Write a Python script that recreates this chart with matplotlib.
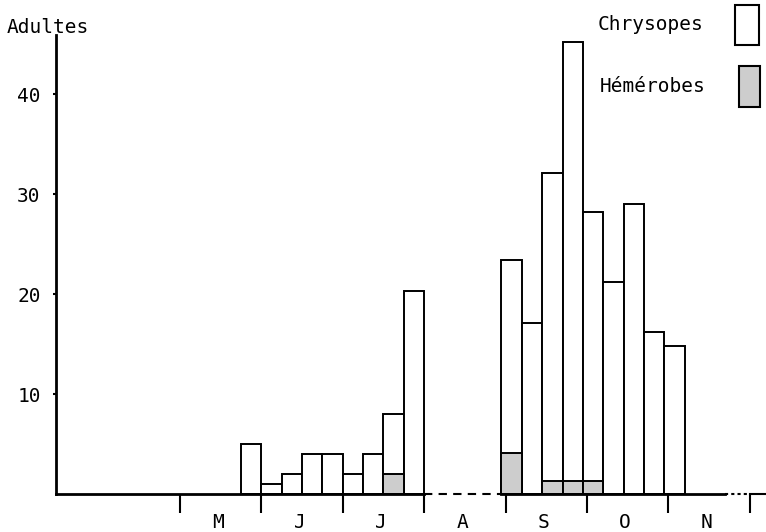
import matplotlib
matplotlib.use("Agg")
from matplotlib import pyplot as plt
from matplotlib.patches import Rectangle

# sampling periods, start of each quarter-month period (months counted from 1 May)
period_start = [0.75, 1.0, 1.25, 1.5, 1.75, 2.0, 2.25, 2.5, 2.75,
                3.95, 4.2, 4.45, 4.7, 4.95, 5.2, 5.45, 5.7, 5.95]
chrysopes = [5, 1, 2, 4, 4, 2, 4, 8, 20.3,
             23.4, 17.1, 32.1, 45.2, 28.2, 21.2, 29, 16.2, 14.8]
hemerobes = [0, 0, 0, 0, 0, 0, 0, 2, 0,
             4.1, 0, 1.3, 1.3, 1.3, 0, 0, 0, 0]
months = ["M", "J", "J", "A", "S", "O", "N"]
y_ticks = [10, 20, 30, 40]

FONT = "DejaVu Sans Mono"
plt.rcParams["font.family"] = FONT
plt.rcParams["font.size"] = 14

W, H = 766, 532
fig = plt.figure(figsize=(W / 100, H / 100), dpi=100)
ax = fig.add_axes([56 / W, (H - 494) / H, 710 / W, 459 / H])
ax.set_xlim(-1.523, 7.2)
ax.set_ylim(0, 45.9)

# bars
ax.bar(period_start, chrysopes, width=0.25, align="edge",
       facecolor="white", edgecolor="black", linewidth=1.4, zorder=2)
hx = [x for x, v in zip(period_start, hemerobes) if v > 0]
hv = [v for v in hemerobes if v > 0]
ax.bar(hx, hv, width=0.25, align="edge",
       facecolor="#cdcdcd", edgecolor="black", linewidth=1.4, zorder=3)

# baseline: solid, dashed over August, solid again, dotted end
ax.plot([-1.523, 3.0], [0, 0], color="black", lw=2, clip_on=False, zorder=4)
ax.plot([3.0, 3.95], [0, 0], color="black", lw=1.5, ls=(0, (4, 3)),
        clip_on=False, zorder=4)
ax.plot([3.95, 6.7], [0, 0], color="black", lw=2, clip_on=False, zorder=4)
ax.plot([6.7, 6.97], [0, 0], color="black", lw=1.5, ls=(0, (1.5, 1.5)),
        clip_on=False, zorder=4)
ax.plot([7.0, 7.2], [0, 0], color="black", lw=1.5, clip_on=False, zorder=4)

for side in ["top", "right", "bottom"]:
    ax.spines[side].set_visible(False)
ax.spines["left"].set_linewidth(2)

ax.set_xticks(range(8))
ax.set_xticklabels([""] * 8)
ax.tick_params(axis="x", direction="out", length=14, width=1.5)
ax.set_yticks(y_ticks)
ax.set_yticklabels([str(v) for v in y_ticks])
ax.tick_params(axis="y", direction="out", length=2, width=1.5, pad=9,
               labelsize=14)

for i, m in enumerate(months):
    ax.text(i + 0.47, -2.8, m, ha="center", va="center", fontsize=14)

fig.text(7 / W, 1 - 28 / H, "Adultes", ha="left", va="center", fontsize=14)

# legend
fig.text(598 / W, 1 - 25 / H, "Chrysopes", ha="left", va="center", fontsize=14)
fig.patches.append(Rectangle((735 / W, 1 - 45 / H), 24 / W, 40 / H,
                             transform=fig.transFigure, facecolor="white",
                             edgecolor="black", linewidth=1.5))
fig.text(600 / W, 1 - 86 / H, "Hémérobes", ha="left", va="center", fontsize=14)
fig.patches.append(Rectangle((739 / W, 1 - 107 / H), 21 / W, 41 / H,
                             transform=fig.transFigure, facecolor="#cdcdcd",
                             edgecolor="black", linewidth=1.5))

fig.savefig("out.png", dpi=100)
